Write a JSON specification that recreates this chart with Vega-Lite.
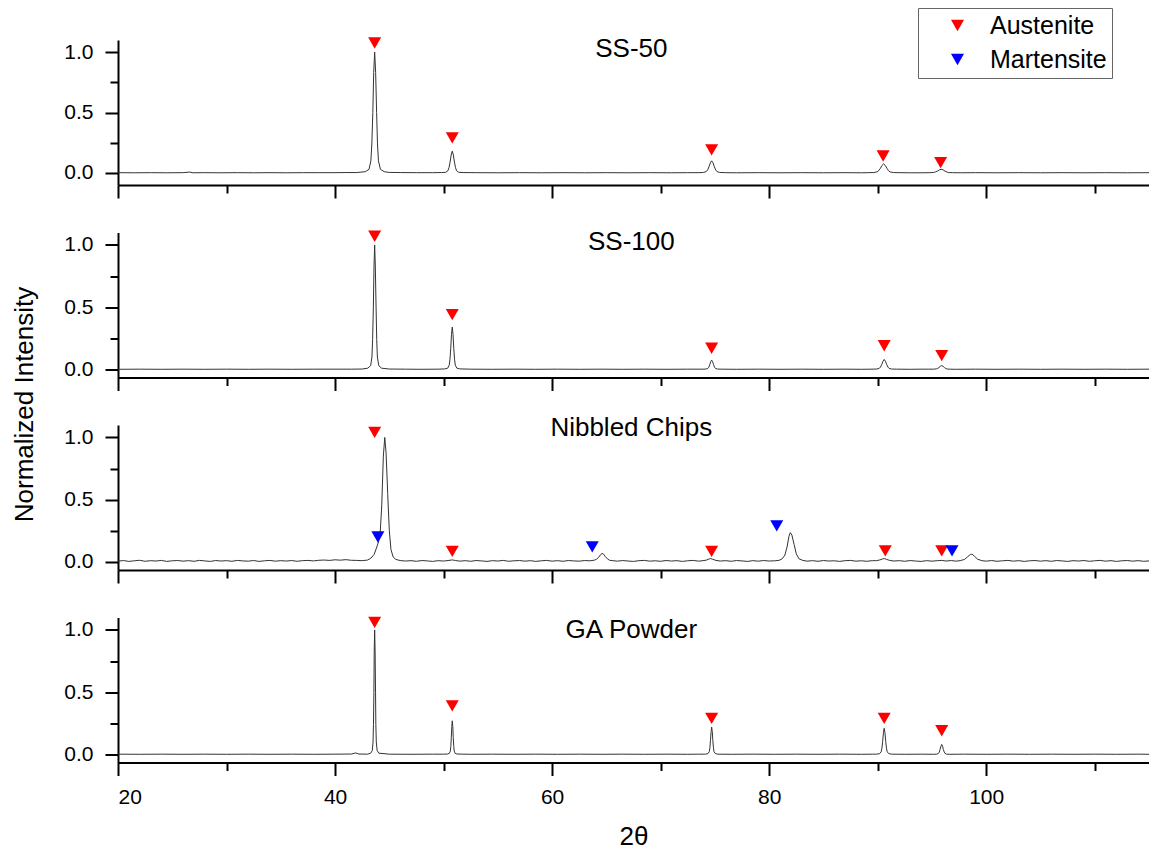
{
  "$schema": "https://vega.github.io/schema/vega-lite/v6.json",
  "padding": {"left": 11, "top": 7, "right": 0, "bottom": 0},
  "config": {
    "view": {"stroke": null},
    "font": "Liberation Sans",
    "axis": {"domainColor": "black", "domainWidth": 2, "tickColor": "black", "tickWidth": 2, "labelFont": "Liberation Sans", "labelFontSize": 21, "labelColor": "black", "titleFont": "Liberation Sans", "titleFontSize": 26, "titleFontWeight": "normal", "titleColor": "black", "grid": false}
  },
  "datasets": {
    "ss50": [
      {"x":20,"y":0.002},{"x":21.5,"y":0.001},{"x":23,"y":0.002},{"x":24.5,"y":0.001},{"x":26,"y":0.002},{"x":26.6,"y":0.007},{"x":26.9,"y":0.001},{"x":28,"y":0.002},{"x":29.5,"y":0.001},{"x":31,"y":0.002},{"x":32.5,"y":0.001},{"x":34,"y":0.002},{"x":35.5,"y":0.001},{"x":37,"y":0.002},{"x":38.5,"y":0.002},{"x":40,"y":0.002},{"x":41,"y":0.003},{"x":42,"y":0.003},
      {"x":42.78,"y":0.01},{"x":43.13,"y":0.03},{"x":43.3,"y":0.1},{"x":43.39,"y":0.24},{"x":43.48,"y":0.5},{"x":43.56,"y":0.83},{"x":43.65,"y":1.0},{"x":43.74,"y":0.83},{"x":43.83,"y":0.5},{"x":43.91,"y":0.24},{"x":44.0,"y":0.1},{"x":44.18,"y":0.03},{"x":44.53,"y":0.01},
      {"x":45,"y":0.004},{"x":46,"y":0.003},{"x":47.5,"y":0.002},{"x":49,"y":0.002},
      {"x":49.8,"y":0.003},{"x":50.2,"y":0.005},{"x":50.4,"y":0.018},{"x":50.5,"y":0.043},{"x":50.6,"y":0.09},{"x":50.7,"y":0.149},{"x":50.8,"y":0.18},{"x":50.9,"y":0.149},{"x":51.0,"y":0.09},{"x":51.1,"y":0.043},{"x":51.2,"y":0.018},{"x":51.4,"y":0.005},{"x":51.8,"y":0.003},
      {"x":53,"y":0.002},{"x":55,"y":0.001},{"x":57,"y":0.002},{"x":59,"y":0.001},{"x":61,"y":0.002},{"x":63,"y":0.001},{"x":65,"y":0.002},{"x":67,"y":0.001},{"x":69,"y":0.002},{"x":71,"y":0.001},{"x":72.5,"y":0.002},
      {"x":73.45,"y":0.002},{"x":73.95,"y":0.004},{"x":74.2,"y":0.011},{"x":74.33,"y":0.025},{"x":74.45,"y":0.05},{"x":74.58,"y":0.083},{"x":74.7,"y":0.1},{"x":74.83,"y":0.083},{"x":74.95,"y":0.05},{"x":75.08,"y":0.024},{"x":75.2,"y":0.01},{"x":75.45,"y":0.004},{"x":75.95,"y":0.002},
      {"x":77,"y":0.001},{"x":79,"y":0.002},{"x":81,"y":0.001},{"x":83,"y":0.002},{"x":85,"y":0.001},{"x":87,"y":0.002},{"x":88.5,"y":0.001},
      {"x":89.05,"y":0.002},{"x":89.65,"y":0.003},{"x":89.95,"y":0.009},{"x":90.1,"y":0.019},{"x":90.25,"y":0.038},{"x":90.4,"y":0.062},{"x":90.55,"y":0.075},{"x":90.7,"y":0.062},{"x":90.85,"y":0.038},{"x":91.0,"y":0.018},{"x":91.15,"y":0.008},{"x":91.45,"y":0.003},{"x":92.05,"y":0.002},
      {"x":93,"y":0.001},
      {"x":94.1,"y":0.001},{"x":94.8,"y":0.002},{"x":95.15,"y":0.004},{"x":95.33,"y":0.008},{"x":95.5,"y":0.015},{"x":95.68,"y":0.025},{"x":95.85,"y":0.03},{"x":96.03,"y":0.025},{"x":96.2,"y":0.015},{"x":96.38,"y":0.007},{"x":96.55,"y":0.003},{"x":96.9,"y":0.002},{"x":97.6,"y":0.001},
      {"x":99,"y":0.002},{"x":101,"y":0.001},{"x":103,"y":0.002},{"x":105,"y":0.001},{"x":107,"y":0.002},{"x":109,"y":0.001},{"x":111,"y":0.002},{"x":113,"y":0.001},{"x":115,"y":0.002}
    ],
    "ss100": [
      {"x":20,"y":0.001},{"x":22,"y":0.002},{"x":24,"y":0.001},{"x":26,"y":0.002},{"x":28,"y":0.001},{"x":30,"y":0.002},{"x":32,"y":0.001},{"x":34,"y":0.002},{"x":36,"y":0.001},{"x":38,"y":0.002},{"x":40,"y":0.002},{"x":41.5,"y":0.002},{"x":42.5,"y":0.003},
      {"x":43.02,"y":0.01},{"x":43.28,"y":0.03},{"x":43.4,"y":0.1},{"x":43.46,"y":0.24},{"x":43.53,"y":0.5},{"x":43.59,"y":0.83},{"x":43.65,"y":1.0},{"x":43.71,"y":0.83},{"x":43.78,"y":0.5},{"x":43.84,"y":0.24},{"x":43.9,"y":0.1},{"x":44.03,"y":0.03},{"x":44.28,"y":0.01},
      {"x":45,"y":0.003},{"x":46.5,"y":0.002},{"x":48,"y":0.001},{"x":49.5,"y":0.002},
      {"x":50.1,"y":0.004},{"x":50.38,"y":0.01},{"x":50.52,"y":0.034},{"x":50.59,"y":0.082},{"x":50.66,"y":0.17},{"x":50.73,"y":0.282},{"x":50.8,"y":0.34},{"x":50.87,"y":0.282},{"x":50.94,"y":0.17},{"x":51.01,"y":0.082},{"x":51.08,"y":0.034},{"x":51.22,"y":0.01},{"x":51.5,"y":0.004},
      {"x":52.5,"y":0.002},{"x":54.5,"y":0.001},{"x":56.5,"y":0.002},{"x":58.5,"y":0.001},{"x":60.5,"y":0.002},{"x":62.5,"y":0.001},{"x":64.5,"y":0.002},{"x":66.5,"y":0.001},{"x":68.5,"y":0.002},{"x":70.5,"y":0.001},{"x":72.5,"y":0.002},
      {"x":73.83,"y":0.002},{"x":74.18,"y":0.003},{"x":74.35,"y":0.008},{"x":74.44,"y":0.018},{"x":74.53,"y":0.038},{"x":74.61,"y":0.062},{"x":74.7,"y":0.075},{"x":74.79,"y":0.062},{"x":74.88,"y":0.038},{"x":74.96,"y":0.018},{"x":75.05,"y":0.008},{"x":75.23,"y":0.003},{"x":75.58,"y":0.002},
      {"x":77,"y":0.001},{"x":79,"y":0.002},{"x":81,"y":0.001},{"x":83,"y":0.002},{"x":85,"y":0.001},{"x":87,"y":0.002},{"x":88.5,"y":0.001},
      {"x":89.48,"y":0.002},{"x":89.93,"y":0.003},{"x":90.15,"y":0.009},{"x":90.26,"y":0.019},{"x":90.38,"y":0.04},{"x":90.49,"y":0.066},{"x":90.6,"y":0.08},{"x":90.71,"y":0.066},{"x":90.83,"y":0.04},{"x":90.94,"y":0.019},{"x":91.05,"y":0.008},{"x":91.28,"y":0.003},{"x":91.73,"y":0.002},
      {"x":93,"y":0.001},{"x":94,"y":0.002},
      {"x":94.65,"y":0.002},{"x":95.15,"y":0.002},{"x":95.4,"y":0.004},{"x":95.53,"y":0.008},{"x":95.65,"y":0.015},{"x":95.78,"y":0.025},{"x":95.9,"y":0.03},{"x":96.03,"y":0.025},{"x":96.15,"y":0.015},{"x":96.28,"y":0.007},{"x":96.4,"y":0.003},{"x":96.65,"y":0.002},{"x":97.15,"y":0.001},
      {"x":99,"y":0.002},{"x":101,"y":0.001},{"x":103,"y":0.002},{"x":105,"y":0.001},{"x":107,"y":0.002},{"x":109,"y":0.001},{"x":111,"y":0.002},{"x":113,"y":0.001},{"x":115,"y":0.002}
    ],
    "nib": [
      {"x":20,"y":0.006},{"x":20.5,"y":0.011},{"x":21,"y":0.004},{"x":21.5,"y":0.009},{"x":22,"y":0.013},{"x":22.5,"y":0.005},{"x":23,"y":0.010},{"x":23.5,"y":0.007},{"x":24,"y":0.012},{"x":24.5,"y":0.004},{"x":25,"y":0.009},{"x":25.5,"y":0.011},{"x":26,"y":0.006},{"x":26.5,"y":0.010},{"x":27,"y":0.005},{"x":27.5,"y":0.012},{"x":28,"y":0.008},{"x":28.5,"y":0.004},{"x":29,"y":0.011},{"x":29.5,"y":0.007},{"x":30,"y":0.010},{"x":30.5,"y":0.005},{"x":31,"y":0.012},{"x":31.5,"y":0.008},{"x":32,"y":0.006},{"x":32.5,"y":0.011},{"x":33,"y":0.004},{"x":33.5,"y":0.009},{"x":34,"y":0.012},{"x":34.5,"y":0.006},{"x":35,"y":0.010},{"x":35.5,"y":0.007},{"x":36,"y":0.011},{"x":36.5,"y":0.005},{"x":37,"y":0.010},{"x":37.5,"y":0.012},{"x":38,"y":0.008},{"x":38.5,"y":0.013},{"x":39,"y":0.015},{"x":39.5,"y":0.012},{"x":40,"y":0.017},{"x":40.5,"y":0.014},{"x":41,"y":0.018},{"x":41.5,"y":0.013},{"x":42,"y":0.012},{"x":42.5,"y":0.010},
      {"x":43.0,"y":0.015},{"x":43.3,"y":0.03},{"x":43.6,"y":0.06},{"x":43.85,"y":0.12},{"x":44.0,"y":0.16},{"x":44.15,"y":0.22},{"x":44.3,"y":0.45},{"x":44.45,"y":0.85},{"x":44.58,"y":1.0},{"x":44.7,"y":0.88},{"x":44.85,"y":0.55},{"x":45.0,"y":0.25},{"x":45.15,"y":0.10},{"x":45.35,"y":0.04},{"x":45.6,"y":0.02},
      {"x":46,"y":0.011},{"x":46.5,"y":0.007},{"x":47,"y":0.010},{"x":47.5,"y":0.005},{"x":48,"y":0.011},{"x":48.5,"y":0.008},{"x":49,"y":0.004},{"x":49.5,"y":0.010},{"x":50,"y":0.007},{"x":50.5,"y":0.012},{"x":50.8,"y":0.016},{"x":51.1,"y":0.011},{"x":51.5,"y":0.006},{"x":52,"y":0.010},{"x":52.5,"y":0.005},{"x":53,"y":0.011},{"x":53.5,"y":0.008},{"x":54,"y":0.004},{"x":54.5,"y":0.010},{"x":55,"y":0.007},{"x":55.5,"y":0.012},{"x":56,"y":0.005},{"x":56.5,"y":0.009},{"x":57,"y":0.011},{"x":57.5,"y":0.006},{"x":58,"y":0.010},{"x":58.5,"y":0.004},{"x":59,"y":0.009},{"x":59.5,"y":0.012},{"x":60,"y":0.006},{"x":60.5,"y":0.010},{"x":61,"y":0.005},{"x":61.5,"y":0.011},{"x":62,"y":0.008},{"x":62.5,"y":0.006},{"x":63,"y":0.011},
      {"x":63.5,"y":0.009},{"x":63.9,"y":0.014},{"x":64.1,"y":0.022},{"x":64.3,"y":0.038},{"x":64.45,"y":0.057},{"x":64.6,"y":0.068},{"x":64.75,"y":0.062},{"x":64.9,"y":0.043},{"x":65.1,"y":0.024},{"x":65.3,"y":0.013},{"x":65.6,"y":0.010},
      {"x":66,"y":0.006},{"x":66.5,"y":0.011},{"x":67,"y":0.007},{"x":67.5,"y":0.004},{"x":68,"y":0.010},{"x":68.5,"y":0.012},{"x":69,"y":0.006},{"x":69.5,"y":0.009},{"x":70,"y":0.005},{"x":70.5,"y":0.011},{"x":71,"y":0.007},{"x":71.5,"y":0.010},{"x":72,"y":0.004},{"x":72.5,"y":0.009},{"x":73,"y":0.012},{"x":73.5,"y":0.006},
      {"x":73.9,"y":0.010},{"x":74.2,"y":0.014},{"x":74.45,"y":0.023},{"x":74.6,"y":0.027},{"x":74.8,"y":0.021},{"x":75.1,"y":0.012},{"x":75.5,"y":0.007},
      {"x":76,"y":0.010},{"x":76.5,"y":0.005},{"x":77,"y":0.011},{"x":77.5,"y":0.008},{"x":78,"y":0.004},{"x":78.5,"y":0.010},{"x":79,"y":0.006},{"x":79.5,"y":0.011},{"x":80,"y":0.007},{"x":80.5,"y":0.009},
      {"x":80.9,"y":0.012},{"x":81.2,"y":0.025},{"x":81.45,"y":0.055},{"x":81.65,"y":0.12},{"x":81.82,"y":0.205},{"x":81.95,"y":0.235},{"x":82.1,"y":0.215},{"x":82.3,"y":0.14},{"x":82.5,"y":0.065},{"x":82.75,"y":0.025},{"x":83.1,"y":0.012},
      {"x":83.5,"y":0.006},{"x":84,"y":0.010},{"x":84.5,"y":0.005},{"x":85,"y":0.011},{"x":85.5,"y":0.007},{"x":86,"y":0.009},{"x":86.5,"y":0.004},{"x":87,"y":0.010},{"x":87.5,"y":0.012},{"x":88,"y":0.006},{"x":88.5,"y":0.009},{"x":89,"y":0.005},{"x":89.5,"y":0.010},
      {"x":89.9,"y":0.010},{"x":90.2,"y":0.016},{"x":90.45,"y":0.024},{"x":90.6,"y":0.027},{"x":90.8,"y":0.021},{"x":91.1,"y":0.012},{"x":91.5,"y":0.007},
      {"x":92,"y":0.010},{"x":92.5,"y":0.005},{"x":93,"y":0.011},{"x":93.5,"y":0.007},{"x":94,"y":0.004},{"x":94.5,"y":0.010},{"x":95,"y":0.006},{"x":95.5,"y":0.010},{"x":95.9,"y":0.012},{"x":96.3,"y":0.007},{"x":96.8,"y":0.011},{"x":97.2,"y":0.006},
      {"x":97.6,"y":0.010},{"x":98.0,"y":0.020},{"x":98.3,"y":0.042},{"x":98.55,"y":0.060},{"x":98.7,"y":0.062},{"x":98.9,"y":0.047},{"x":99.2,"y":0.022},{"x":99.6,"y":0.010},
      {"x":100,"y":0.006},{"x":100.5,"y":0.011},{"x":101,"y":0.005},{"x":101.5,"y":0.009},{"x":102,"y":0.012},{"x":102.5,"y":0.006},{"x":103,"y":0.010},{"x":103.5,"y":0.004},{"x":104,"y":0.009},{"x":104.5,"y":0.011},{"x":105,"y":0.006},{"x":105.5,"y":0.010},{"x":106,"y":0.005},{"x":106.5,"y":0.011},{"x":107,"y":0.008},{"x":107.5,"y":0.004},{"x":108,"y":0.010},{"x":108.5,"y":0.007},{"x":109,"y":0.011},{"x":109.5,"y":0.005},{"x":110,"y":0.009},{"x":110.5,"y":0.012},{"x":111,"y":0.006},{"x":111.5,"y":0.010},{"x":112,"y":0.004},{"x":112.5,"y":0.009},{"x":113,"y":0.011},{"x":113.5,"y":0.006},{"x":114,"y":0.010},{"x":114.5,"y":0.005},{"x":115,"y":0.008}
    ],
    "ga": [
      {"x":20,"y":0.002},{"x":22,"y":0.001},{"x":24,"y":0.002},{"x":26,"y":0.001},{"x":28,"y":0.002},{"x":30,"y":0.001},{"x":32,"y":0.002},{"x":34,"y":0.001},{"x":36,"y":0.002},{"x":38,"y":0.001},{"x":40,"y":0.002},{"x":41.5,"y":0.003},{"x":41.9,"y":0.012},{"x":42.2,"y":0.003},{"x":43,"y":0.002},
      {"x":43.28,"y":0.01},{"x":43.43,"y":0.03},{"x":43.5,"y":0.1},{"x":43.54,"y":0.24},{"x":43.58,"y":0.5},{"x":43.61,"y":0.83},{"x":43.65,"y":1.0},{"x":43.69,"y":0.83},{"x":43.73,"y":0.5},{"x":43.76,"y":0.24},{"x":43.8,"y":0.1},{"x":43.88,"y":0.03},{"x":44.03,"y":0.01},
      {"x":45,"y":0.002},{"x":47,"y":0.001},{"x":49,"y":0.002},{"x":50,"y":0.002},
      {"x":50.35,"y":0.003},{"x":50.53,"y":0.008},{"x":50.62,"y":0.027},{"x":50.67,"y":0.065},{"x":50.71,"y":0.135},{"x":50.76,"y":0.224},{"x":50.8,"y":0.27},{"x":50.85,"y":0.224},{"x":50.89,"y":0.135},{"x":50.94,"y":0.065},{"x":50.98,"y":0.027},{"x":51.07,"y":0.008},{"x":51.25,"y":0.003},
      {"x":52.5,"y":0.001},{"x":54.5,"y":0.002},{"x":56.5,"y":0.001},{"x":58.5,"y":0.002},{"x":60.5,"y":0.001},{"x":62.5,"y":0.002},{"x":64.5,"y":0.001},{"x":66.5,"y":0.002},{"x":68.5,"y":0.001},{"x":70.5,"y":0.002},{"x":72.5,"y":0.001},{"x":73.5,"y":0.002},
      {"x":74.15,"y":0.002},{"x":74.37,"y":0.007},{"x":74.48,"y":0.022},{"x":74.54,"y":0.053},{"x":74.59,"y":0.11},{"x":74.65,"y":0.183},{"x":74.7,"y":0.22},{"x":74.76,"y":0.183},{"x":74.81,"y":0.11},{"x":74.87,"y":0.053},{"x":74.92,"y":0.022},{"x":75.03,"y":0.007},{"x":75.25,"y":0.002},
      {"x":76.5,"y":0.001},{"x":78.5,"y":0.002},{"x":80.5,"y":0.001},{"x":82.5,"y":0.002},{"x":84.5,"y":0.001},{"x":86.5,"y":0.002},{"x":88.5,"y":0.001},{"x":89.5,"y":0.002},
      {"x":89.9,"y":0.002},{"x":90.18,"y":0.006},{"x":90.32,"y":0.021},{"x":90.39,"y":0.05},{"x":90.46,"y":0.105},{"x":90.53,"y":0.174},{"x":90.6,"y":0.21},{"x":90.67,"y":0.174},{"x":90.74,"y":0.105},{"x":90.81,"y":0.05},{"x":90.88,"y":0.021},{"x":91.02,"y":0.006},{"x":91.3,"y":0.002},
      {"x":92.5,"y":0.001},{"x":94,"y":0.002},
      {"x":95.15,"y":0.001},{"x":95.45,"y":0.002},{"x":95.6,"y":0.008},{"x":95.68,"y":0.019},{"x":95.75,"y":0.04},{"x":95.83,"y":0.066},{"x":95.9,"y":0.08},{"x":95.98,"y":0.066},{"x":96.05,"y":0.04},{"x":96.13,"y":0.019},{"x":96.2,"y":0.008},{"x":96.35,"y":0.002},{"x":96.65,"y":0.001},
      {"x":98,"y":0.002},{"x":100,"y":0.001},{"x":102,"y":0.002},{"x":104,"y":0.001},{"x":106,"y":0.002},{"x":108,"y":0.001},{"x":110,"y":0.002},{"x":112,"y":0.001},{"x":114,"y":0.002},{"x":115,"y":0.001}
    ],
    "markers": [
      {"panel":"SS-50","phase":"Austenite","x":43.65,"y":1.075},
      {"panel":"SS-50","phase":"Austenite","x":50.8,"y":0.29},
      {"panel":"SS-50","phase":"Austenite","x":74.7,"y":0.19},
      {"panel":"SS-50","phase":"Austenite","x":90.5,"y":0.14},
      {"panel":"SS-50","phase":"Austenite","x":95.8,"y":0.085},
      {"panel":"SS-100","phase":"Austenite","x":43.65,"y":1.07},
      {"panel":"SS-100","phase":"Austenite","x":50.8,"y":0.44},
      {"panel":"SS-100","phase":"Austenite","x":74.7,"y":0.17},
      {"panel":"SS-100","phase":"Austenite","x":90.6,"y":0.19},
      {"panel":"SS-100","phase":"Austenite","x":95.9,"y":0.11},
      {"panel":"Nibbled Chips","phase":"Austenite","x":43.65,"y":1.04},
      {"panel":"Nibbled Chips","phase":"Austenite","x":50.8,"y":0.085},
      {"panel":"Nibbled Chips","phase":"Austenite","x":74.7,"y":0.085},
      {"panel":"Nibbled Chips","phase":"Austenite","x":90.7,"y":0.088},
      {"panel":"Nibbled Chips","phase":"Austenite","x":95.9,"y":0.088},
      {"panel":"Nibbled Chips","phase":"Martensite","x":43.95,"y":0.2},
      {"panel":"Nibbled Chips","phase":"Martensite","x":63.7,"y":0.12},
      {"panel":"Nibbled Chips","phase":"Martensite","x":80.7,"y":0.29},
      {"panel":"Nibbled Chips","phase":"Martensite","x":96.85,"y":0.088},
      {"panel":"GA Powder","phase":"Austenite","x":43.65,"y":1.06},
      {"panel":"GA Powder","phase":"Austenite","x":50.8,"y":0.39},
      {"panel":"GA Powder","phase":"Austenite","x":74.7,"y":0.29},
      {"panel":"GA Powder","phase":"Austenite","x":90.6,"y":0.29},
      {"panel":"GA Powder","phase":"Austenite","x":95.9,"y":0.19}
    ]
  },
  "bounds": "flush",
  "spacing": 47.5,
  "resolve": {"scale": {"x": "independent", "y": "independent", "color": "shared"}},
  "vconcat": [
    {
      "width": 1031, "height": 145,
      "layer": [
        {"data": {"name": "ss50"}, "mark": {"type": "line", "color": "#333333", "strokeWidth": 1},
         "encoding": {
           "x": {"field": "x", "type": "quantitative", "scale": {"domain": [20, 115], "nice": false, "zero": false}, "axis": {"values": [20, 40, 60, 80, 100], "labels": false, "title": null, "tickSize": 13, "orient": "bottom"}},
           "y": {"field": "y", "type": "quantitative", "scale": {"domain": [-0.1, 1.1], "nice": false, "zero": false}, "axis": {"values": [0, 0.5, 1], "format": ".1f", "title": null, "tickSize": 13, "labelPadding": 12, "orient": "left"}}
         }},
        {"data": {"name": "markers"}, "transform": [{"filter": "datum.panel === 'SS-50'"}],
         "mark": {"type": "point", "shape": "triangle-down", "filled": true, "size": 170, "opacity": 1},
         "encoding": {
           "x": {"field": "x", "type": "quantitative", "axis": {"values": [30, 50, 70, 90, 110], "labels": false, "domain": false, "title": null, "tickSize": 8, "orient": "bottom"}},
           "y": {"field": "y", "type": "quantitative", "axis": {"values": [0.25, 0.75], "labels": false, "domain": false, "title": null, "tickSize": 8, "orient": "left"}},
           "color": {"field": "phase", "type": "nominal", "scale": {"domain": ["Austenite", "Martensite"], "range": ["#FF0000", "#0000FF"]},
             "legend": {"orient": "none", "legendX": 800, "legendY": -32, "title": null, "symbolType": "triangle-down", "symbolSize": 170, "symbolStrokeWidth": 0, "labelFontSize": 25, "labelFont": "Liberation Sans", "labelColor": "black", "strokeColor": "#666666", "fillColor": "white", "padding": 5, "rowPadding": 8, "symbolOffset": 22, "labelOffset": 20, "labelLimit": 300}}
         }},
        {"data": {"values": [{"label": "SS-50"}]},
         "mark": {"type": "text", "fontSize": 26, "font": "Liberation Sans", "color": "black", "align": "center", "baseline": "middle"},
         "encoding": {"x": {"datum": 67.3, "type": "quantitative", "axis": null}, "y": {"datum": 1.025, "type": "quantitative", "axis": null}, "text": {"field": "label"}}}
      ],
      "resolve": {"axis": {"x": "independent", "y": "independent"}}
    },
    {
      "width": 1031, "height": 145,
      "layer": [
        {"data": {"name": "ss100"}, "mark": {"type": "line", "color": "#333333", "strokeWidth": 1},
         "encoding": {
           "x": {"field": "x", "type": "quantitative", "scale": {"domain": [20, 115], "nice": false, "zero": false}, "axis": {"values": [20, 40, 60, 80, 100], "labels": false, "title": null, "tickSize": 13, "orient": "bottom"}},
           "y": {"field": "y", "type": "quantitative", "scale": {"domain": [-0.065, 1.1], "nice": false, "zero": false}, "axis": {"values": [0, 0.5, 1], "format": ".1f", "title": "Normalized Intensity", "titleX": -86, "titleY": 171.5, "titleAngle": -90, "titleAlign": "center", "titleBaseline": "alphabetic", "tickSize": 13, "labelPadding": 12, "orient": "left"}}
         }},
        {"data": {"name": "markers"}, "transform": [{"filter": "datum.panel === 'SS-100'"}],
         "mark": {"type": "point", "shape": "triangle-down", "filled": true, "size": 170, "opacity": 1},
         "encoding": {
           "x": {"field": "x", "type": "quantitative", "axis": {"values": [30, 50, 70, 90, 110], "labels": false, "domain": false, "title": null, "tickSize": 8, "orient": "bottom"}},
           "y": {"field": "y", "type": "quantitative", "axis": {"values": [0.25, 0.75], "labels": false, "domain": false, "title": null, "tickSize": 8, "orient": "left"}},
           "color": {"field": "phase", "type": "nominal", "scale": {"domain": ["Austenite", "Martensite"], "range": ["#FF0000", "#0000FF"]},
             "legend": {"orient": "none", "legendX": 800, "legendY": -32, "title": null, "symbolType": "triangle-down", "symbolSize": 170, "symbolStrokeWidth": 0, "labelFontSize": 25, "labelFont": "Liberation Sans", "labelColor": "black", "strokeColor": "#666666", "fillColor": "white", "padding": 5, "rowPadding": 8, "symbolOffset": 22, "labelOffset": 20, "labelLimit": 300}}
         }},
        {"data": {"values": [{"label": "SS-100"}]},
         "mark": {"type": "text", "fontSize": 26, "font": "Liberation Sans", "color": "black", "align": "center", "baseline": "middle"},
         "encoding": {"x": {"datum": 67.3, "type": "quantitative", "axis": null}, "y": {"datum": 1.02, "type": "quantitative", "axis": null}, "text": {"field": "label"}}}
      ],
      "resolve": {"axis": {"x": "independent", "y": "independent"}}
    },
    {
      "width": 1031, "height": 145,
      "layer": [
        {"data": {"name": "nib"}, "mark": {"type": "line", "color": "#333333", "strokeWidth": 1},
         "encoding": {
           "x": {"field": "x", "type": "quantitative", "scale": {"domain": [20, 115], "nice": false, "zero": false}, "axis": {"values": [20, 40, 60, 80, 100], "labels": false, "title": null, "tickSize": 13, "orient": "bottom"}},
           "y": {"field": "y", "type": "quantitative", "scale": {"domain": [-0.065, 1.1], "nice": false, "zero": false}, "axis": {"values": [0, 0.5, 1], "format": ".1f", "title": null, "tickSize": 13, "labelPadding": 12, "orient": "left"}}
         }},
        {"data": {"name": "markers"}, "transform": [{"filter": "datum.panel === 'Nibbled Chips'"}],
         "mark": {"type": "point", "shape": "triangle-down", "filled": true, "size": 170, "opacity": 1},
         "encoding": {
           "x": {"field": "x", "type": "quantitative", "axis": {"values": [30, 50, 70, 90, 110], "labels": false, "domain": false, "title": null, "tickSize": 8, "orient": "bottom"}},
           "y": {"field": "y", "type": "quantitative", "axis": {"values": [0.25, 0.75], "labels": false, "domain": false, "title": null, "tickSize": 8, "orient": "left"}},
           "color": {"field": "phase", "type": "nominal", "scale": {"domain": ["Austenite", "Martensite"], "range": ["#FF0000", "#0000FF"]},
             "legend": {"orient": "none", "legendX": 800, "legendY": -32, "title": null, "symbolType": "triangle-down", "symbolSize": 170, "symbolStrokeWidth": 0, "labelFontSize": 25, "labelFont": "Liberation Sans", "labelColor": "black", "strokeColor": "#666666", "fillColor": "white", "padding": 5, "rowPadding": 8, "symbolOffset": 22, "labelOffset": 20, "labelLimit": 300}}
         }},
        {"data": {"values": [{"label": "Nibbled Chips"}]},
         "mark": {"type": "text", "fontSize": 26, "font": "Liberation Sans", "color": "black", "align": "center", "baseline": "middle"},
         "encoding": {"x": {"datum": 67.3, "type": "quantitative", "axis": null}, "y": {"datum": 1.076, "type": "quantitative", "axis": null}, "text": {"field": "label"}}}
      ],
      "resolve": {"axis": {"x": "independent", "y": "independent"}}
    },
    {
      "width": 1031, "height": 145,
      "layer": [
        {"data": {"name": "ga"}, "mark": {"type": "line", "color": "#333333", "strokeWidth": 1},
         "encoding": {
           "x": {"field": "x", "type": "quantitative", "scale": {"domain": [20, 115], "nice": false, "zero": false}, "axis": {"values": [20, 40, 60, 80, 100], "format": "d", "labelPadding": 11, "title": "2θ", "titlePadding": 16, "tickSize": 13, "orient": "bottom"}},
           "y": {"field": "y", "type": "quantitative", "scale": {"domain": [-0.065, 1.1], "nice": false, "zero": false}, "axis": {"values": [0, 0.5, 1], "format": ".1f", "title": null, "tickSize": 13, "labelPadding": 12, "orient": "left"}}
         }},
        {"data": {"name": "markers"}, "transform": [{"filter": "datum.panel === 'GA Powder'"}],
         "mark": {"type": "point", "shape": "triangle-down", "filled": true, "size": 170, "opacity": 1},
         "encoding": {
           "x": {"field": "x", "type": "quantitative", "axis": {"values": [30, 50, 70, 90, 110], "labels": false, "domain": false, "title": null, "tickSize": 8, "orient": "bottom"}},
           "y": {"field": "y", "type": "quantitative", "axis": {"values": [0.25, 0.75], "labels": false, "domain": false, "title": null, "tickSize": 8, "orient": "left"}},
           "color": {"field": "phase", "type": "nominal", "scale": {"domain": ["Austenite", "Martensite"], "range": ["#FF0000", "#0000FF"]},
             "legend": {"orient": "none", "legendX": 800, "legendY": -32, "title": null, "symbolType": "triangle-down", "symbolSize": 170, "symbolStrokeWidth": 0, "labelFontSize": 25, "labelFont": "Liberation Sans", "labelColor": "black", "strokeColor": "#666666", "fillColor": "white", "padding": 5, "rowPadding": 8, "symbolOffset": 22, "labelOffset": 20, "labelLimit": 300}}
         }},
        {"data": {"values": [{"label": "GA Powder"}]},
         "mark": {"type": "text", "fontSize": 26, "font": "Liberation Sans", "color": "black", "align": "center", "baseline": "middle"},
         "encoding": {"x": {"datum": 67.3, "type": "quantitative", "axis": null}, "y": {"datum": 1.0, "type": "quantitative", "axis": null}, "text": {"field": "label"}}}
      ],
      "resolve": {"axis": {"x": "independent", "y": "independent"}}
    }
  ]
}
